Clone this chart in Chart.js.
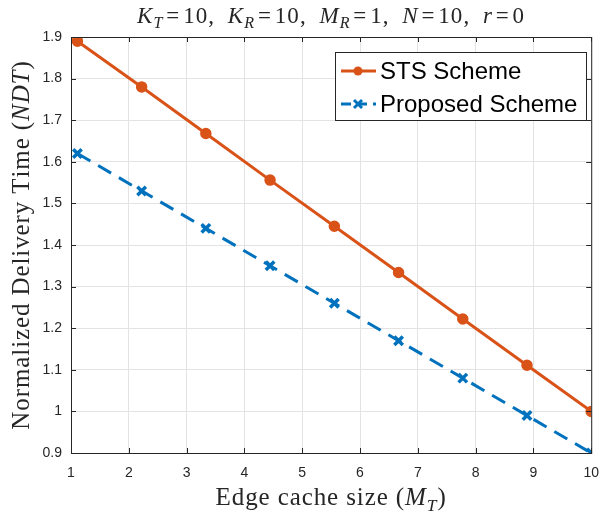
<!DOCTYPE html>
<html><head><meta charset="utf-8">
<script src="https://cdn.jsdelivr.net/npm/chart.js@4/dist/chart.umd.min.js"></script>
<style>html,body{margin:0;padding:0;background:#fff;}#wrap{width:611px;height:514px;position:relative;}</style>
</head><body><div id="wrap"><canvas id="c" width="611" height="514"></canvas></div>
<script>
const xValues = [1.111, 2.222, 3.333, 4.444, 5.556, 6.667, 7.778, 8.889, 10];
const stsValues = [1.89, 1.78, 1.668, 1.556, 1.445, 1.334, 1.222, 1.111, 1.0];
const proposedValues = [1.62, 1.53, 1.44, 1.35, 1.26, 1.17, 1.08, 0.99, 0.90];
const seriesNames = ['STS Scheme', 'Proposed Scheme'];
const xTicks = [1,2,3,4,5,6,7,8,9,10];
const yTicks = [0.9,1,1.1,1.2,1.3,1.4,1.5,1.6,1.7,1.8,1.9];
const titleParts = [{t:'K',i:1},{t:'T',i:1,s:1},{t:'=10,\u2002'},{t:'K',i:1},{t:'R',i:1,s:1},{t:'=10,\u2002'},{t:'M',i:1},{t:'R',i:1,s:1},{t:'=1,\u2002'},{t:'N',i:1},{t:'=10,\u2002'},{t:'r',i:1},{t:'=0'}];
const xTitleParts = [{t:'Edge cache size ('},{t:'M',i:1},{t:'T',i:1,s:1},{t:')'}];
const yTitleParts = [{t:'Normalized Delivery Time ('},{t:'NDT',i:1},{t:')'}];

const ORANGE = '#D95319', BLUE = '#0072BD';
const SERIF = '"Liberation Serif", "DejaVu Serif", serif';
const SANS = '"Liberation Sans", Arial, sans-serif';

function expand(parts){
  const out=[];
  for(const p of parts){
    const pieces=p.t.split('=');
    pieces.forEach((s,k)=>{
      if(k>0) out.push({t:'=', eq:1});
      if(s) out.push({t:s, i:p.i, s:p.s});
    });
  }
  return out;
}
function fontFor(p,size){ return (p.i?'italic ':'')+(p.s?size*0.7:size)+'px '+SERIF; }
function pieceW(ctx,p,size,eqGap,ls){
  ctx.font=fontFor(p,size);
  let w=0; for(const ch of p.t) w+=ctx.measureText(ch).width+ls;
  return w + (p.eq?2*eqGap*size:0);
}
function drawRich(ctx, parts, cx, by, size, eqGap, ls){
  const ps=expand(parts);
  let w=0; for(const p of ps) w+=pieceW(ctx,p,size,eqGap,ls);
  let x=cx-w/2;
  ctx.textBaseline='alphabetic'; ctx.textAlign='left'; ctx.fillStyle='#262626';
  for(const p of ps){
    ctx.font=fontFor(p,size);
    const off = p.eq?eqGap*size:0;
    x+=off;
    for(const ch of p.t){ ctx.fillText(ch, x, by+(p.s?size*0.22:0)); x+=ctx.measureText(ch).width+ls; }
    x+=off;
  }
}

const decor = {
  id:'decor',
  afterDatasetsDraw(chart){
    const ctx=chart.ctx, a=chart.chartArea, xs=chart.scales.x, ys=chart.scales.y;
    ctx.save();
    ctx.strokeStyle='#262626'; ctx.lineWidth=1;
    ctx.strokeRect(a.left+0.5, a.top+0.5, a.right-a.left, a.bottom-a.top);
    ctx.beginPath();
    for(const v of xTicks){ const px=Math.round(xs.getPixelForValue(v))+0.5;
      ctx.moveTo(px,a.bottom); ctx.lineTo(px,a.bottom-5); ctx.moveTo(px,a.top); ctx.lineTo(px,a.top+5); }
    for(const v of yTicks){ const py=Math.round(ys.getPixelForValue(v))+0.5;
      ctx.moveTo(a.left,py); ctx.lineTo(a.left+5,py); ctx.moveTo(a.right,py); ctx.lineTo(a.right-5,py); }
    ctx.stroke();
    // legend
    const lx=335, ly=52, lw=251, lh=68;
    ctx.fillStyle='#fff'; ctx.fillRect(lx,ly,lw,lh);
    ctx.strokeStyle='#262626'; ctx.lineWidth=1; ctx.strokeRect(lx+0.5,ly+0.5,lw,lh);
    const rows=[71,104];
    chart.data.datasets.forEach((ds,i)=>{
      const y=rows[i];
      ctx.strokeStyle=ds.borderColor; ctx.lineWidth=3; ctx.setLineDash(ds.borderDash?[10,6]:[]);
      ctx.beginPath(); ctx.moveTo(341,y); ctx.lineTo(376,y); ctx.stroke(); ctx.setLineDash([]);
      if(ds.pointStyle==='circle'){ ctx.fillStyle=ds.borderColor; ctx.beginPath(); ctx.arc(358,y,4.5,0,Math.PI*2); ctx.fill(); }
      else { ctx.beginPath(); ctx.moveTo(354,y-4); ctx.lineTo(362,y+4); ctx.moveTo(354,y+4); ctx.lineTo(362,y-4); ctx.stroke(); }
      ctx.fillStyle='#000'; ctx.font='24px '+SANS; ctx.textAlign='left'; ctx.textBaseline='middle';
      ctx.fillText(ds.label, 380, y+1);
    });
    // titles
    const cx=(a.left+a.right)/2;
    drawRich(ctx, titleParts, cx, 23, 23, 0.12, 1.1);
    drawRich(ctx, xTitleParts, cx, 505, 25, 0, 0.9);
    ctx.save(); ctx.translate(29,(a.top+a.bottom)/2); ctx.rotate(-Math.PI/2);
    drawRich(ctx, yTitleParts, 0, 0, 25, 0, 0.9); ctx.restore();
    ctx.restore();
  }
};

new Chart(document.getElementById('c'), {
  type:'line',
  data:{ datasets:[
    { label:seriesNames[0], data:xValues.map((x,i)=>({x, y:stsValues[i]})), borderColor:ORANGE, backgroundColor:ORANGE,
      borderWidth:3, pointStyle:'circle', pointRadius:5, pointBorderWidth:1.5, pointBackgroundColor:ORANGE, pointBorderColor:ORANGE, tension:0 },
    { label:seriesNames[1], data:xValues.map((x,i)=>({x, y:proposedValues[i]})), borderColor:BLUE, backgroundColor:BLUE,
      borderWidth:3, borderDash:[15,9], pointStyle:'crossRot', pointRadius:6, pointBorderWidth:3.5, pointBorderColor:BLUE, tension:0 }
  ]},
  options:{
    responsive:false, animation:false, devicePixelRatio:1,
    layout:{padding:{left:0, top:37, right:8, bottom:0}},
    plugins:{legend:{display:false}, title:{display:false}, tooltip:{enabled:false}},
    scales:{
      x:{ type:'linear', min:1, max:10,
        afterBuildTicks(s){ s.ticks = xTicks.map(v=>({value:v})); },
        afterFit(s){ s.height = 61; },
        grid:{color:'#e3e3e3', lineWidth:1, drawTicks:false},
        border:{display:false},
        ticks:{font:{family:SANS, size:14}, color:'#262626', padding:12, maxRotation:0, autoSkip:false, callback:v=>String(v)}
      },
      y:{ type:'linear', min:0.9, max:1.9,
        afterBuildTicks(s){ s.ticks = yTicks.map(v=>({value:v})); },
        afterFit(s){ s.width = 71; },
        grid:{color:'#e3e3e3', lineWidth:1, drawTicks:false},
        border:{display:false},
        ticks:{font:{family:SANS, size:14}, color:'#262626', padding:9, autoSkip:false, callback:v=>String(Math.round(v*10)/10)}
      }
    }
  },
  plugins:[decor]
});
</script></body></html>
